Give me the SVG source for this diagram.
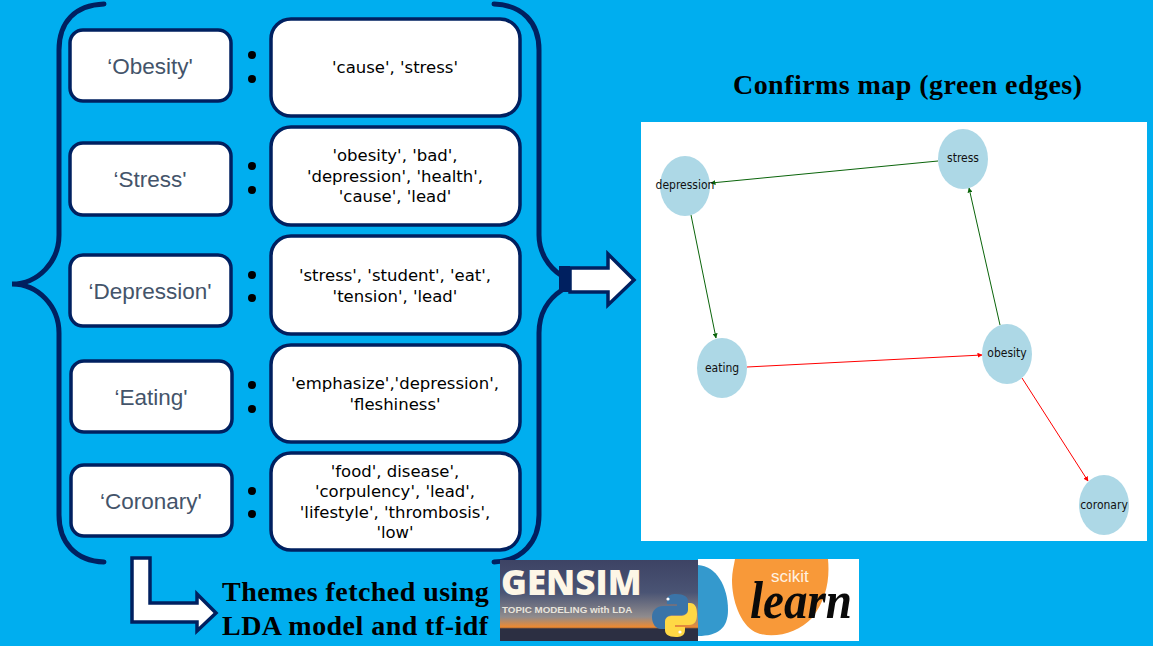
<svg xmlns="http://www.w3.org/2000/svg" width="1153" height="646" viewBox="0 0 1153 646">
<style>
.box{fill:#fff;stroke:#002060;stroke-width:3.5}
.lab{font:22.5px "Liberation Sans",Arial,sans-serif;fill:#44546a;text-anchor:middle}
.kw{font:16.5px "DejaVu Sans",Verdana,sans-serif;fill:#000;text-anchor:middle}
.brace{fill:none;stroke:#002060;stroke-width:5;stroke-linecap:round}
.ser{font:bold 28px "Liberation Serif","Times New Roman",serif;fill:#000;letter-spacing:.45px}
.node{fill:#add8e6}
.nt{font:12px "DejaVu Sans Condensed","DejaVu Sans",sans-serif;fill:#111;text-anchor:middle}
.g{stroke:#0a640a;stroke-width:1;fill:none;marker-end:url(#ag)}
.r{stroke:#f00;stroke-width:1;fill:none;marker-end:url(#ar)}
.arrow{fill:#fff;stroke:#002060;stroke-width:3.5;stroke-linejoin:miter}
.dot{fill:#000}
</style>
<defs>
<marker id="ag" markerUnits="userSpaceOnUse" markerWidth="5" markerHeight="5" refX="4.5" refY="2.5" orient="auto"><path d="M0 0L5 2.5L0 5z" fill="#0a640a"/></marker>
<marker id="ar" markerUnits="userSpaceOnUse" markerWidth="5" markerHeight="5" refX="4.5" refY="2.5" orient="auto"><path d="M0 0L5 2.5L0 5z" fill="#f00"/></marker>
<linearGradient id="sky" x1="0" y1="0" x2="0" y2="1"><stop offset="0" stop-color="#3d4364"/><stop offset=".4" stop-color="#4a5474"/><stop offset=".7" stop-color="#8f8b8d"/><stop offset=".83" stop-color="#f08a30"/><stop offset=".85" stop-color="#2c2f42"/><stop offset="1" stop-color="#2c2f42"/></linearGradient>
</defs>
<rect width="1153" height="646" fill="#00aeef"/>

<g id="brace-left"><path class="brace" d="M104 4C75 5 59 22 59 50V235C59 262 38 284 12 284C38 284 59 306 59 333V515C59 542 75 561 104 562"/></g>
<g id="brace-right"><path class="brace" d="M494 4C522 5 539 22 539 50V235C539 252 548 267 562 276M562 290C548 299 539 314 539 333V515C539 542 522 561 494 562"/></g>

<g id="node-obesity"><rect class="box" x="70" y="30" width="161" height="71" rx="13"/><text class="lab" x="150" y="74">‘Obesity'</text></g>
<g id="node-stress"><rect class="box" x="70" y="143" width="161" height="72" rx="13"/><text class="lab" x="150" y="187">‘Stress'</text></g>
<g id="node-depression"><rect class="box" x="70" y="255" width="161" height="71" rx="13"/><text class="lab" x="150" y="299">‘Depression'</text></g>
<g id="node-eating"><rect class="box" x="71" y="361" width="161" height="71" rx="13"/><text class="lab" x="151" y="405">‘Eating'</text></g>
<g id="node-coronary"><rect class="box" x="71" y="465" width="161" height="71" rx="13"/><text class="lab" x="151" y="509">‘Coronary'</text></g>

<g id="dots">
<circle class="dot" cx="252" cy="55" r="4"/><circle class="dot" cx="252" cy="79" r="4"/>
<circle class="dot" cx="252" cy="166" r="4"/><circle class="dot" cx="252" cy="190" r="4"/>
<circle class="dot" cx="252" cy="275" r="4"/><circle class="dot" cx="252" cy="298" r="4"/>
<circle class="dot" cx="252" cy="385" r="4"/><circle class="dot" cx="252" cy="409" r="4"/>
<circle class="dot" cx="252" cy="491" r="4"/><circle class="dot" cx="252" cy="514" r="4"/>
</g>

<g id="terms-obesity"><rect class="box" x="271" y="19" width="249" height="97" rx="20"/><text class="kw" x="395" y="73">'cause', 'stress'</text></g>
<g id="terms-stress"><rect class="box" x="271" y="127" width="249" height="98" rx="20"/><text class="kw" x="395" y="161"><tspan x="395">'obesity', 'bad',</tspan><tspan x="395" dy="20.5">'depression', 'health',</tspan><tspan x="395" dy="20.5">'cause', 'lead'</tspan></text></g>
<g id="terms-depression"><rect class="box" x="271" y="236" width="249" height="98" rx="20"/><text class="kw" x="395" y="281"><tspan x="395">'stress', 'student', 'eat',</tspan><tspan x="395" dy="20.5">'tension', 'lead'</tspan></text></g>
<g id="terms-eating"><rect class="box" x="271" y="345" width="249" height="97" rx="20"/><text class="kw" x="395" y="389"><tspan x="395">'emphasize','depression',</tspan><tspan x="395" dy="20.5">'fleshiness'</tspan></text></g>
<g id="terms-coronary"><rect class="box" x="271" y="453" width="249" height="97" rx="20"/><text class="kw" x="395" y="477"><tspan x="395">'food', disease',</tspan><tspan x="395" dy="20.3">'corpulency', 'lead',</tspan><tspan x="395" dy="20.3">'lifestyle', 'thrombosis',</tspan><tspan x="395" dy="20.3">'low'</tspan></text></g>

<g id="arrow-right"><rect x="559" y="266" width="11" height="26" fill="#002060"/><path class="arrow" d="M570 268H608V254L634 280L608 305V292H570Z"/></g>
<g id="arrow-bottom"><path class="arrow" d="M132 558H150V603H197V594L216 613L197 631V622H132Z"/></g>

<text id="title" class="ser" x="733" y="94">Confirms map (green edges)</text>
<text id="caption" class="ser" x="222" y="601">Themes fetched using<tspan x="222" y="635">LDA model and tf-idf</tspan></text>

<g id="panel"><rect x="641" y="122" width="506" height="419" fill="#fff"/></g>
<g id="connectors">
<path class="g" d="M938 161L711 183"/>
<path class="g" d="M691 215L716 338"/>
<path class="g" d="M1000 325L969 188"/>
<path class="r" d="M747 367L982 355"/>
<path class="r" d="M1022 378L1088 481"/>
</g>
<g id="g-depression"><ellipse class="node" cx="685" cy="186" rx="25" ry="30"/><text class="nt" x="685" y="189">depression</text></g>
<g id="g-stress"><ellipse class="node" cx="963" cy="159" rx="25" ry="30"/><text class="nt" x="963" y="162">stress</text></g>
<g id="g-eating"><ellipse class="node" cx="722" cy="368" rx="25" ry="30"/><text class="nt" x="722" y="372">eating</text></g>
<g id="g-obesity"><ellipse class="node" cx="1007" cy="354" rx="25" ry="30"/><text class="nt" x="1007" y="357">obesity</text></g>
<g id="g-coronary"><ellipse class="node" cx="1104" cy="505" rx="25" ry="30"/><text class="nt" x="1104" y="509">coronary</text></g>

<g id="logo-gensim">
<rect x="500" y="560" width="198" height="81" fill="url(#sky)"/>
<text x="501" y="595" style="font:800 35px 'Open Sans','Liberation Sans',sans-serif;fill:#fdf6e6">GENSIM</text>
<text x="502" y="613" style="font:bold 9.8px 'Liberation Sans',sans-serif;fill:#e8e4dc">TOPIC MODELING with LDA</text>
<path d="M676 594C666 594 667 600 667 604H677V606H663C657 606 652 610 652 617C652 624 656 629 661 629H665V622C665 617 669 615 673 615H682C686 615 688 612 688 609V601C688 597 684 594 676 594Z" fill="#3a74a8"/>
<path d="M676 637C686 637 685 631 685 627H675V625H689C695 625 697 621 697 614C697 607 695 603 690 603H688V610C688 614 684 616 680 616H671C667 616 665 619 665 622V630C665 634 668 637 676 637Z" fill="#ffd845"/>
<circle cx="668" cy="599" r="1.6" fill="#fff"/><circle cx="680" cy="632" r="1.6" fill="#fff"/>
</g>
<g id="logo-scikit">
<rect x="698" y="559" width="161" height="82" fill="#fff"/>
<path d="M698 565C716 566 728 586 728 610C728 628 718 636 698 636Z" fill="#3499cd"/>
<path d="M735 559H828C830 580 826 600 812 618C798 633 772 640 755 632C740 624 732 600 732 580C732 572 734 565 735 559Z" fill="#f89939"/>
<text x="771" y="582" style="font:17px 'Liberation Sans',sans-serif;fill:#fff2e2">scikit</text>
<text x="750" y="618" style="font:italic bold 52px 'Liberation Serif',serif;fill:#0a0a0a" textLength="102" lengthAdjust="spacingAndGlyphs">learn</text>
</g>
</svg>
